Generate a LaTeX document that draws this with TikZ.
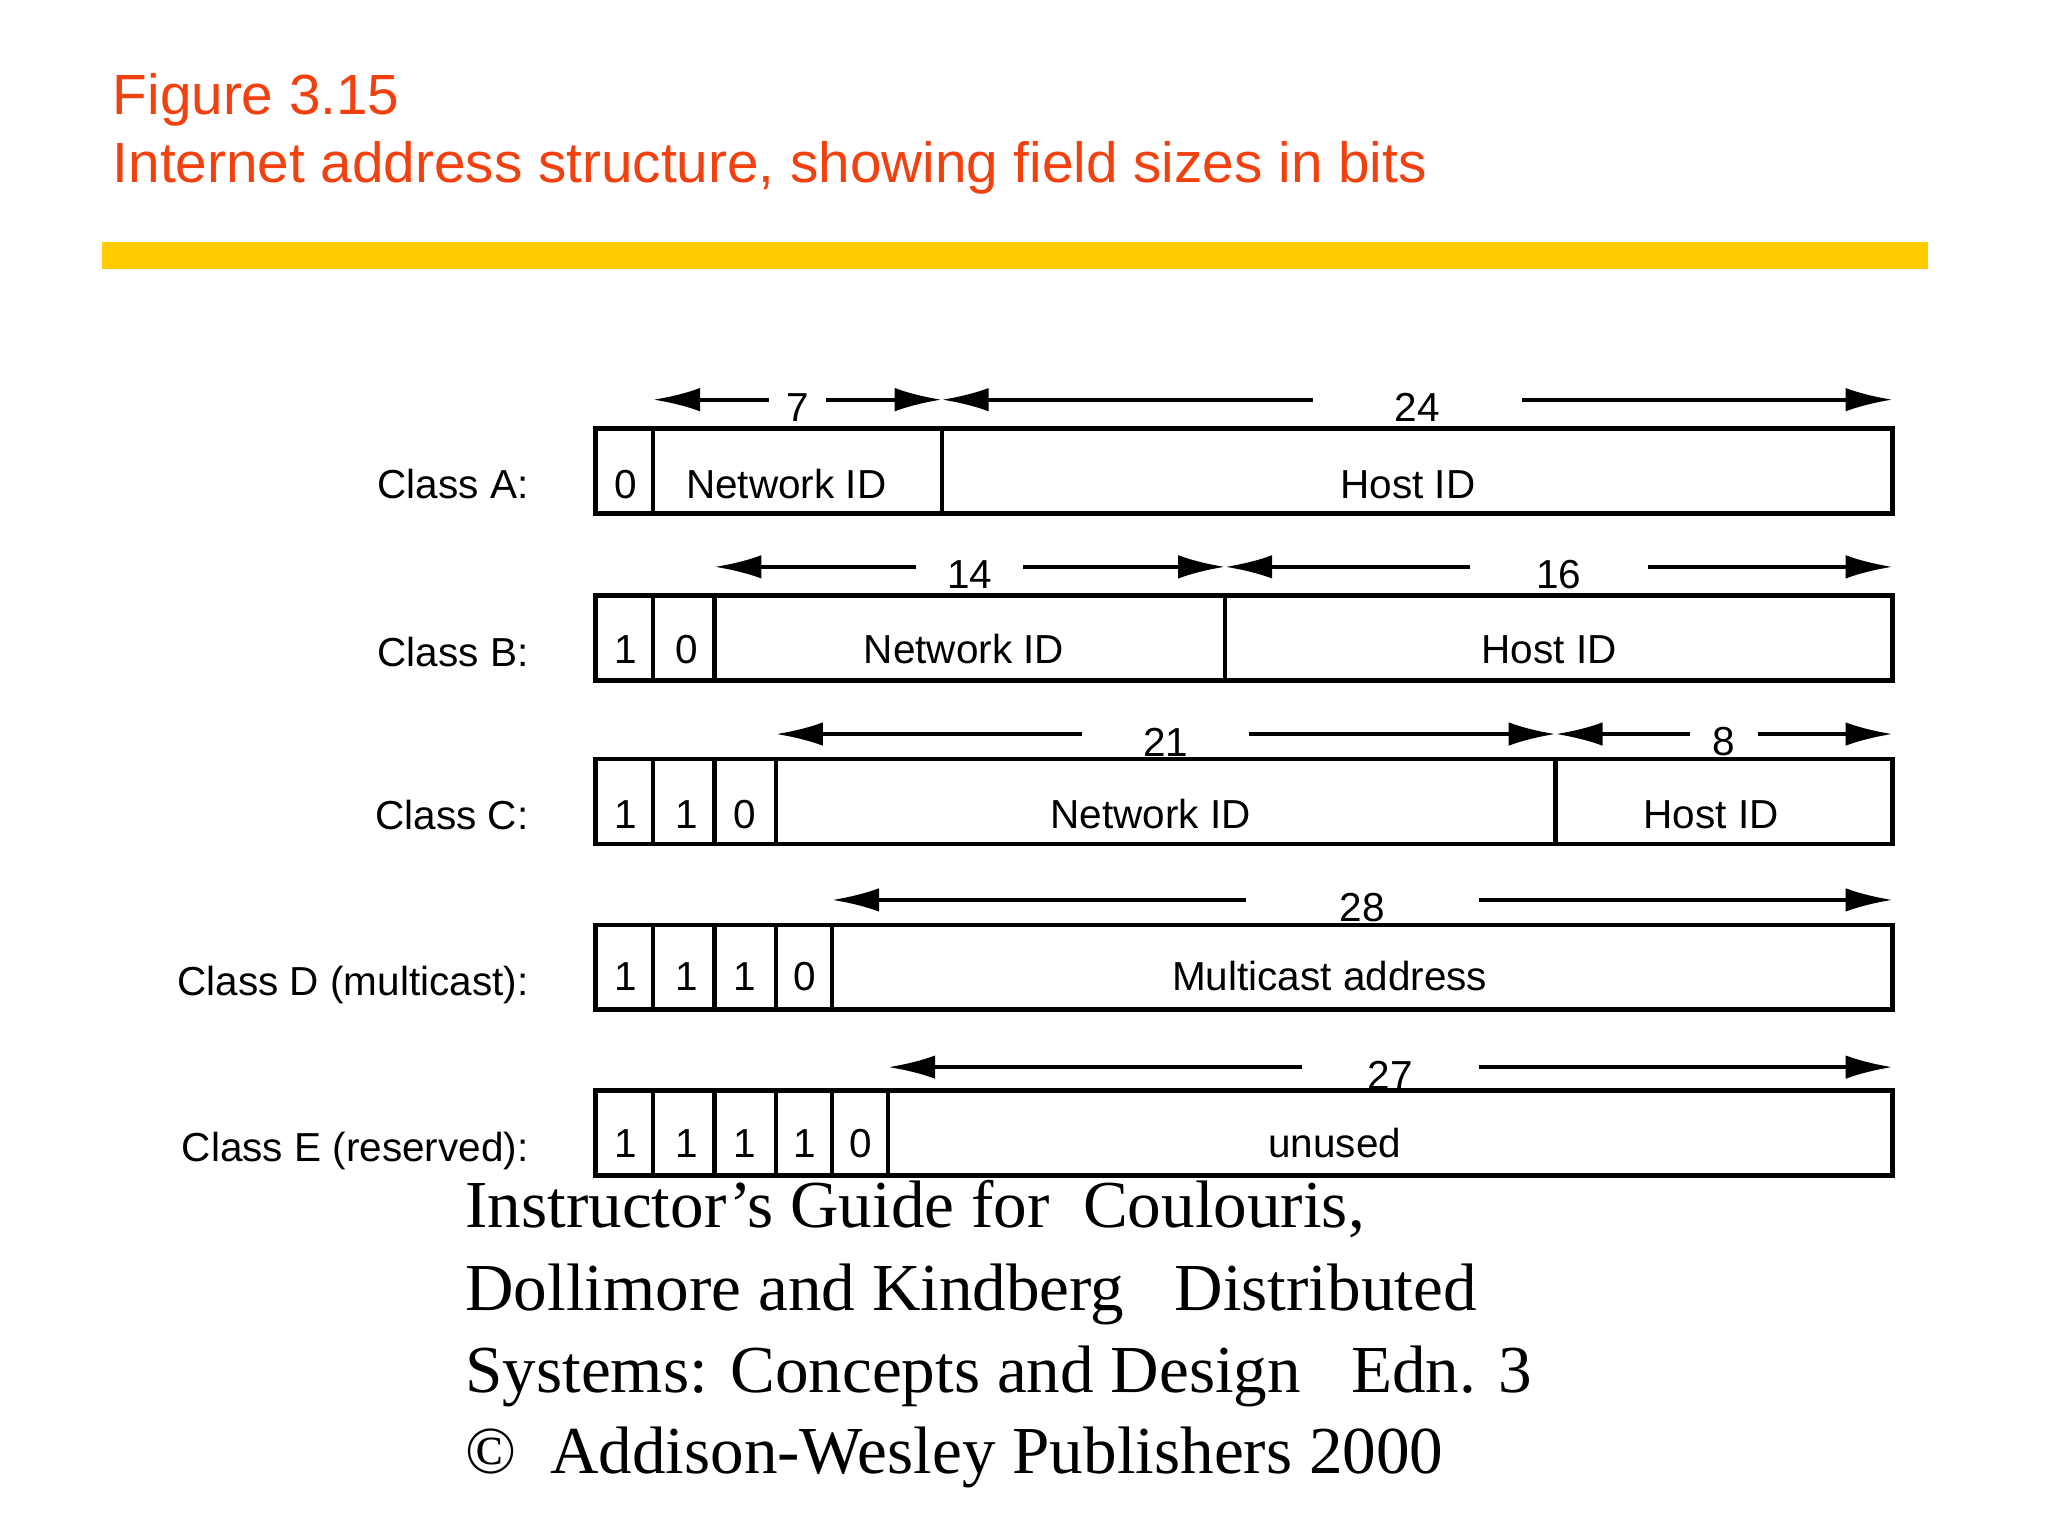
\documentclass[tikz,border=0pt]{standalone}
\usepackage{fontspec}
\setmainfont{Liberation Sans}
\newfontfamily\serifbody{Liberation Serif}
\usetikzlibrary{arrows.meta}
\definecolor{titlered}{HTML}{F2400F}
\definecolor{baryellow}{HTML}{FFCC00}
\tikzset{
  cellbox/.style={draw,line width=1.7pt},
  dimline/.style={line width=1.5pt,-{Latex[length=18pt,width=9pt]}},
  celltext/.style={font=\fontsize{15.5}{18}\selectfont,inner sep=0pt,anchor=base},
  rowlabel/.style={font=\fontsize{15.5}{18}\selectfont,anchor=base east,inner sep=0pt},
  dimtext/.style={font=\fontsize{15.5}{18}\selectfont,inner sep=0pt}
}
\newcommand{\dimarrow}[5]{% x1, x2, Y, label, halfgap
  \pgfmathsetmacro{\mx}{(#1+#2)/2}
  \coordinate (da) at (#1,#3); \coordinate (db) at (#2,#3);
  \coordinate (ma) at (\mx-#5,#3); \coordinate (mb) at (\mx+#5,#3);
  \draw[dimline] (ma) -- (da);
  \draw[dimline] (mb) -- (db);
  \node[dimtext] at (\mx,#3+6) {#4};
}
\newcommand{\cellrow}[3]{% Ytop, list of dividers, label
  \draw[cellbox] (456,#1) rectangle (1449,#1+65);
  \foreach \d in {#2} {\draw[cellbox] (\d,#1) -- (\d,#1+65);}
  \node[rowlabel] at (405,#1+54) {#3};
}
\begin{document}
\begin{tikzpicture}[x=0.5pt,y=-0.5pt]
\useasboundingbox (0,0) rectangle (1568,1176);
\node[anchor=base west,text=titlered,font=\fontsize{21.7}{24}\selectfont,inner sep=0pt] (t1) at (86,88) {Figure 3.15};
\node[anchor=base west,text=titlered,font=\fontsize{21.7}{24}\selectfont,inner sep=0pt] (t2) at (86,140) {Internet address structure, showing field sizes in bits};
\fill[baryellow] (78,185) rectangle (1476,206);
% Class A
\cellrow{328}{500,721}{Class A:}
\node[celltext] at (479,382) {0};
\node[celltext] at (602,382) {Network ID};
\node[celltext] at (1078,382) {Host ID};
\dimarrow{500}{721}{306}{7}{22}
\dimarrow{721}{1449}{306}{24}{80}
% Class B
\cellrow{456}{500,547,938}{Class B:}
\node[celltext] at (479,508) {1};
\node[celltext] at (526,508) {0};
\node[celltext] at (738,508) {Network ID};
\node[celltext] at (1186,508) {Host ID};
\dimarrow{547}{938}{434}{14}{41}
\dimarrow{938}{1449}{434}{16}{68}
% Class C
\cellrow{581}{500,547,594,1191}{Class C:}
\node[celltext] at (479,634) {1};
\node[celltext] at (526,634) {1};
\node[celltext] at (570,634) {0};
\node[celltext] at (881,634) {Network ID};
\node[celltext] at (1310,634) {Host ID};
\dimarrow{594}{1191}{562}{21}{64}
\dimarrow{1191}{1449}{562}{8}{26}
% Class D
\cellrow{708}{500,547,594,637}{Class D (multicast):}
\node[celltext] at (479,758) {1};
\node[celltext] at (526,758) {1};
\node[celltext] at (570,758) {1};
\node[celltext] at (616,758) {0};
\node[celltext] at (1018,758) {Multicast address};
\dimarrow{637}{1449}{689}{28}{89}
% Class E
\cellrow{835}{500,547,594,637,680}{Class E (reserved):}
\node[celltext] at (479,886) {1};
\node[celltext] at (526,886) {1};
\node[celltext] at (570,886) {1};
\node[celltext] at (616,886) {1};
\node[celltext] at (659,886) {0};
\node[celltext] at (1022,886) {unused};
\dimarrow{680}{1449}{817}{27}{68}
% footer
\node[anchor=base west,inner sep=0pt,font=\serifbody\fontsize{25.7}{30}\selectfont] (f1) at (356,940) {Instructor’s Guide for\ \ Coulouris,};
\node[anchor=base west,inner sep=0pt,font=\serifbody\fontsize{25.7}{30}\selectfont] (f2) at (356,1003) {Dollimore and Kindberg\ \ \ Distributed};
\node[anchor=base west,inner sep=0pt,font=\serifbody\fontsize{25.7}{30}\selectfont] (f3) at (356,1066) {Systems: Concepts and Design\ \ \ Edn. 3};
\node[anchor=base west,inner sep=0pt,font=\serifbody\fontsize{25.7}{30}\selectfont] (f4) at (356,1128) {©\ \ Addison-Wesley Publishers 2000};
\end{tikzpicture}
\end{document}
